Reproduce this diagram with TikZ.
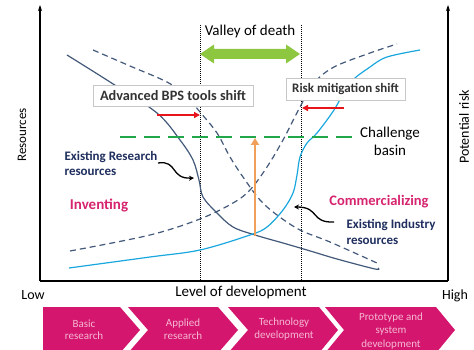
\documentclass[tikz,border=0pt]{standalone}
\usepackage{fontspec}
\setmainfont{Carlito}
\usetikzlibrary{arrows.meta}
\definecolor{navy}{HTML}{1F2E5E}
\definecolor{curvedark}{HTML}{43597A}
\definecolor{curvelight}{HTML}{1AA7DE}
\definecolor{mag}{HTML}{D4166F}
\definecolor{magtext}{HTML}{D6246E}
\definecolor{grnd}{HTML}{22A64B}
\definecolor{grna}{HTML}{8DC63F}
\definecolor{redarr}{HTML}{E8141B}
\definecolor{orng}{HTML}{F0A05A}
\definecolor{boxtext}{HTML}{333333}
\definecolor{chevpink}{HTML}{F6B8D2}
\begin{document}
\begin{tikzpicture}[x=1pt,y=-1pt,
  axisline/.style={black, line width=1.3pt},
  axisarrow/.style={axisline, -{Stealth[length=6pt,width=4pt]}},
  vdots/.style={black, line width=0.8pt, dash pattern=on 1pt off 1pt},
  darkcurve/.style={curvedark, line width=1.2pt},
  darkdash/.style={curvedark, line width=1.2pt, dash pattern=on 6pt off 4pt},
  lightcurve/.style={curvelight, line width=1.2pt},
  redshift/.style={redarr, line width=1.6pt, -{Triangle[length=6pt,width=6pt]}},
  curly/.style={black, line width=1.3pt, -{Stealth[length=5pt,width=5pt]}},
  shiftbox/.style={draw=black!22, fill=white, line width=0.6pt, text=boxtext, inner xsep=3pt, inner ysep=2pt},
  plainlabel/.style={text=black, font=\fontsize{15}{17}\selectfont},
  navylabel/.style={text=navy, font=\fontsize{13}{15.5}\selectfont\bfseries, align=left},
  phaselabel/.style={text=magtext, font=\fontsize{15}{17}\selectfont\bfseries},
  chevtext/.style={text=chevpink, font=\fontsize{11}{12.5}\selectfont, align=center}
]
\useasboundingbox (0,0) rectangle (474,350);
\clip (0,0) rectangle (474,350);

% chevrons
\fill[mag] (43,307) -- (120,307) -- (140,330) -- (120,353) -- (43,353) -- cycle;
\fill[mag] (128,307) -- (218,307) -- (238,330) -- (218,353) -- (128,353) -- (148,330) -- cycle;
\fill[mag] (228,307) -- (319,307) -- (338,330) -- (319,353) -- (228,353) -- (248,330) -- cycle;
\fill[mag] (325,307) -- (436,307) -- (455,330) -- (436,353) -- (325,353) -- (344,330) -- cycle;
\node[chevtext] (c1) at (84,330) {Basic\\research};
\node[chevtext] (c2) at (183,329) {Applied\\research};
\node[chevtext] (c3) at (284,329) {Technology\\development};
\node[chevtext, font=\fontsize{11}{13.5}\selectfont] (c4) at (391,331) {Prototype and\\system\\development};

% axes
\coordinate (o) at (40,281);
\coordinate (ytop) at (40,5);
\coordinate (r) at (448,281);
\coordinate (rtop) at (448,5);
\draw[axisline] (o) -- (r);
\draw[axisarrow] (o) -- (ytop);
\draw[axisarrow] (r) -- (rtop);

\node[plainlabel, rotate=90, font=\fontsize{13}{15}\selectfont] (res) at (22,135) {Resources};
\node[plainlabel, rotate=90, font=\fontsize{14}{16}\selectfont] (risk) at (464,127) {Potential risk};
\node[plainlabel, font=\fontsize{14}{16}\selectfont] (low) at (33,295) {Low};
\node[plainlabel] (lev) at (241,292) {Level of development};
\node[plainlabel, font=\fontsize{14}{16}\selectfont] (high) at (455,296) {High};

% dotted verticals
\coordinate (d1t) at (200,25);
\coordinate (d1b) at (200,281);
\coordinate (d2t) at (301,25);
\coordinate (d2b) at (301,281);
\draw[vdots] (d1t) -- (d1b);
\draw[vdots] (d2t) -- (d2b);

\node[plainlabel] (valley) at (250,32) {Valley of death};

% green double arrow
\fill[grna] (200,54) -- (214,44.5) -- (214,49) -- (286,49) -- (286,44.5) -- (300,54)
  -- (286,63.5) -- (286,59) -- (214,59) -- (214,63.5) -- cycle;

% curves
\draw[darkcurve] plot[smooth, tension=0.55] coordinates {(67,55) (110,82) (157,113) (180,140) (193,160) (199,180) (203,197) (217,213) (233,227) (255,235) (283,243) (307,250) (337,259) (375,269) (378,268)};
\draw[darkdash] plot[smooth, tension=0.55] coordinates {(93,50) (130,66) (167,82) (185,95) (200,112) (217,133) (230,157) (243,177) (260,200) (277,215) (300,230) (330,242) (377,263)};
\draw[darkdash] plot[smooth, tension=0.55] coordinates {(70,251) (150,235) (200,219) (233,203) (250,190) (267,167) (283,140) (300,107) (314,83) (334,67) (370,53) (397,44)};
\draw[lightcurve] plot[smooth, tension=0.55] coordinates {(69,268) (150,257) (200,250) (250,235) (267,227) (283,210) (293,193) (297,175) (300,157) (307,143) (317,133) (334,110) (350,83) (370,67) (387,57) (420,50)};

% challenge basin line
\coordinate (gl) at (120,137);
\coordinate (gr) at (358,137);
\draw[grnd, line width=2.4pt, dash pattern=on 16pt off 8pt] (gl) -- (gr);
\node[plainlabel, align=center, font=\fontsize{15}{18}\selectfont] (basin) at (390,141) {Challenge\\basin};

% orange arrow
\coordinate (ob) at (255,236);
\coordinate (ot) at (255,138);
\draw[orng, line width=2.6pt, -{Triangle[length=7pt,width=8pt]}] (ob) -- (ot);

% shift boxes
\node[shiftbox, font=\fontsize{14.3}{16}\selectfont\bfseries, minimum width=160pt, minimum height=21pt] (bps) at (173,96) {Advanced BPS tools shift};
\node[shiftbox, font=\fontsize{13}{15}\selectfont\bfseries, minimum width=119pt, minimum height=22pt] (rms) at (345.5,89) {Risk mitigation shift};
\coordinate (ra1) at (157,115);
\coordinate (ra2) at (200,115);
\coordinate (rb1) at (344,108);
\coordinate (rb2) at (302,108);
\draw[redshift] (ra1) -- (ra2);
\draw[redshift] (rb1) -- (rb2);

% labels
\node[navylabel, anchor=west] (erres) at (61,163.5) {Existing Research\\resources};
\node[navylabel, anchor=west] (eires) at (343,232) {Existing Industry\\resources};
\node[phaselabel] (inv) at (99,205) {Inventing};
\node[phaselabel, font=\fontsize{14.5}{17}\selectfont\bfseries] (com) at (379,202) {Commercializing};

% curly arrows
\coordinate (ca1) at (158,163);
\coordinate (ca2) at (194,178);
\draw[curly] (ca1) .. controls (178,160) and (170,179) .. (ca2);
\coordinate (cb1) at (334,222);
\coordinate (cb2) at (294,207);
\draw[curly] (cb1) .. controls (310,223) and (320,207) .. (cb2);
\end{tikzpicture}
\end{document}
